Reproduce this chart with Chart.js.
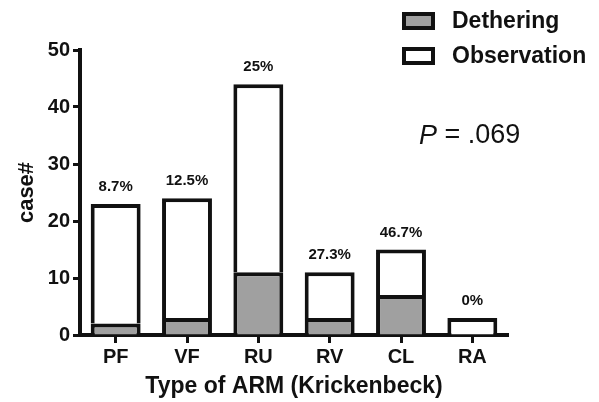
<!DOCTYPE html>
<html><head><meta charset="utf-8">
<script src="https://cdn.jsdelivr.net/npm/chart.js@4/dist/chart.umd.min.js"></script>
<style>html,body{margin:0;padding:0;background:#fff}#wrap{width:599px;height:402px}</style>
</head><body><div id="wrap"><canvas id="c" width="599" height="402"></canvas></div>
<script>
const categories = ['PF','VF','RU','RV','CL','RA'];
const dethering = [2,3,11,3,7,0];
const observation = [21,21,33,8,8,3];
const yTicks = [0,10,20,30,40,50];
const seriesNames = ['Dethering','Observation'];
const xTitle = 'Type of ARM (Krickenbeck)';
const yTitle = 'case#';
const pLabel = 'P';
const pValue = ' = .069';

const FONT = '"Liberation Sans", Arial, Helvetica, sans-serif';
const INK = '#111';
const GRAY = '#a0a0a0';

const overlay = {
  id: 'overlay',
  afterDraw(chart) {
    const ctx = chart.ctx;
    const y = chart.scales.y, x = chart.scales.x;
    ctx.save();
    // percentage labels
    ctx.font = 'bold 15px ' + FONT;
    ctx.textAlign = 'center';
    ctx.textBaseline = 'middle';
    ctx.fillStyle = INK;
    categories.forEach((c, i) => {
      const total = dethering[i] + observation[i];
      const pct = total ? dethering[i] / total * 100 : 0;
      let s = pct.toFixed(1);
      if (s.endsWith('.0')) s = s.slice(0, -2);
      ctx.fillText(s + '%', x.getPixelForValue(i), y.getPixelForValue(total) - 17);
    });
    // legend
    const fills = [GRAY, '#fff'];
    const rows = [21, 56];
    ctx.lineWidth = 4;
    ctx.strokeStyle = INK;
    ctx.font = 'bold 23px ' + FONT;
    ctx.textAlign = 'left';
    seriesNames.forEach((n, i) => {
      ctx.fillStyle = fills[i];
      ctx.fillRect(404, rows[i] - 7, 29, 14);
      ctx.strokeRect(404, rows[i] - 7, 29, 14);
      ctx.fillStyle = INK;
      ctx.fillText(n, 452, rows[i] + 1);
    });
    // P value
    ctx.font = 'italic 27px ' + FONT;
    ctx.fillText(pLabel, 419, 136);
    const w = ctx.measureText(pLabel).width;
    ctx.font = '27px ' + FONT;
    ctx.fillText(pValue, 419 + w, 136);
    ctx.restore();
  }
};

new Chart(document.getElementById('c'), {
  type: 'bar',
  data: {
    labels: categories,
    datasets: [
      { label: seriesNames[0], data: dethering, backgroundColor: GRAY, borderColor: INK, borderWidth: 4 },
      { label: seriesNames[1], data: observation, backgroundColor: '#fff', borderColor: INK, borderWidth: 4 }
    ]
  },
  options: {
    responsive: false,
    animation: false,
    devicePixelRatio: 1,
    layout: { padding: { left: 0, right: 91, top: 50, bottom: 0 } },
    datasets: { bar: { barPercentage: 0.7, categoryPercentage: 1 } },
    plugins: { legend: { display: false }, tooltip: { enabled: false } },
    scales: {
      x: {
        stacked: true,
        offset: true,
        grid: { display: true, offset: false, drawOnChartArea: false, drawTicks: true, tickLength: 8, tickWidth: 3, tickColor: INK },
        border: { display: true, width: 4, color: INK },
        ticks: { color: INK, font: { family: FONT, size: 20, weight: 'bold' }, padding: 2 },
        title: { display: true, text: xTitle, color: INK, font: { family: FONT, size: 23, weight: 'bold' }, padding: { top: 0, bottom: 2 } },
        afterFit(s) { s.height = 67; }
      },
      y: {
        stacked: true,
        min: 0, max: 50,
        afterBuildTicks(s) { s.ticks = yTicks.map(v => ({ value: v })); },
        grid: { display: true, drawOnChartArea: false, drawTicks: true, tickLength: 7, tickWidth: 3, tickColor: INK },
        border: { display: true, width: 4, color: INK },
        ticks: { color: INK, font: { family: FONT, size: 20, weight: 'bold' }, padding: 3 },
        title: { display: true, text: yTitle, color: INK, font: { family: FONT, size: 22, weight: 'bold' }, padding: { top: 14, bottom: 0 } },
        afterFit(s) { s.width = 80; }
      }
    }
  },
  plugins: [overlay]
});
</script>
</body></html>
